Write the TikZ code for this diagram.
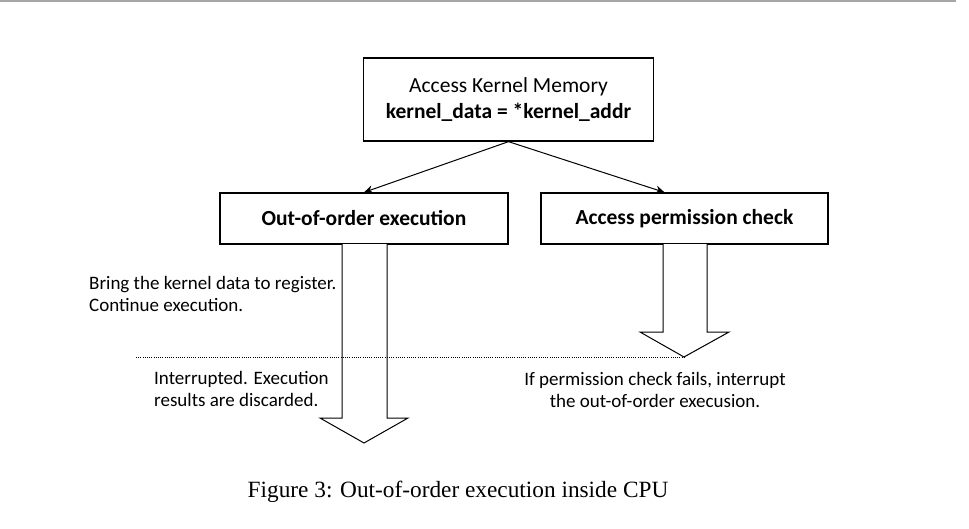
\documentclass[tikz,border=0pt]{standalone}
\usepackage{fontspec}
\setmainfont{Carlito}
\newfontfamily\capfont{Liberation Serif}
\usetikzlibrary{arrows.meta,positioning}

\begin{document}
\begin{tikzpicture}[x=1pt, y=-1pt,
    box/.style = {draw, line width=1.3pt, minimum height=51pt, align=center,
                  font=\fontsize{21.5}{26.5}\selectfont\bfseries},
    note/.style = {font=\fontsize{19}{22.5}\selectfont, inner sep=0pt},
    blockarrow/.style = {draw, line width=1pt, fill=white, line join=miter}]
\useasboundingbox (0,0) rectangle (969,528);
\draw[gray!70, line width=1.5pt] (0,1) -- (956,1);

\node[box, minimum width=290pt, minimum height=83pt, font=\fontsize{21.5}{26.5}\selectfont]
    (kmem) at (508.5,99.5) {Access Kernel Memory\\\textbf{kernel\_data = *kernel\_addr}};
\node[box, minimum width=288pt] (ooe) at (364,218.5) {Out-of-order execution};
\node[box, minimum width=287pt] (perm) at (684.5,218.5) {Access permission check};

\path[-{Stealth[length=9pt,width=8pt]}, line width=1pt]
    (kmem.south) edge (ooe.north)
    (kmem.south) edge ([xshift=-20pt]perm.north);

% block arrows
\draw[blockarrow] (342,244) -- (342,418) -- (320,418) -- (364,443)
    -- (408,418) -- (387,418) -- (387,244);
\draw[blockarrow] (663,244) -- (663,332) -- (640,332) -- (684,357) coordinate (stop)
    -- (729,332) -- (707,332) -- (707,244);

\coordinate (cut) at (136,357);
\draw[line width=1pt, dash pattern=on 1pt off 1.2pt] (cut) -- (stop);

\node[note, anchor=north west, align=left] (bring) at (89,276)
    {Bring the kernel data to register.\\Continue execution.};
\node[note, anchor=north west, align=left] (intr) at (154,371)
    {Interrupted. Execution\\results are discarded.};
\node[note, anchor=north, align=center] (fail) at (655,372)
    {If permission check fails, interrupt\\the out-of-order execusion.};

\node[font=\capfont\fontsize{23.3}{27}\selectfont] (cap) at (458,492)
    {Figure 3: Out-of-order execution inside CPU};
\end{tikzpicture}
\end{document}
